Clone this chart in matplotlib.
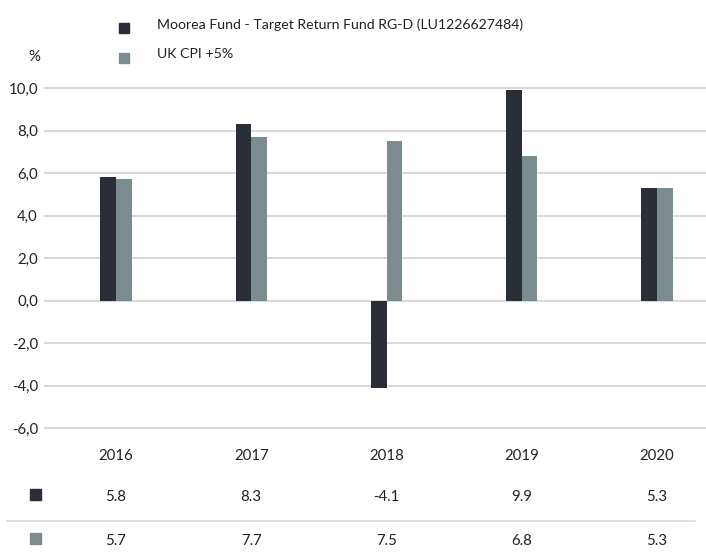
import matplotlib.pyplot as plt
from matplotlib.transforms import blended_transform_factory
import numpy as np

plt.rcParams['font.family'] = ['Lato', 'DejaVu Sans']

# Datos
anios = ['2016', '2017', '2018', '2019', '2020']
fondo = [5.8, 8.3, -4.1, 9.9, 5.3]
cpi = [5.7, 7.7, 7.5, 6.8, 5.3]
nombres = ['Moorea Fund - Target Return Fund RG-D (LU1226627484)', 'UK CPI +5%']
colores = ['#2a2e36', '#7b8c8f']
yticks = [-6, -4, -2, 0, 2, 4, 6, 8, 10]

W, H = 706, 553
fs = 10.8
fig = plt.figure(figsize=(W / 100, H / 100), dpi=100)
ax = fig.add_axes([45 / W, (H - 428) / H, 1 - 45 / W, 340 / H])

x = np.arange(len(anios))
ancho = 0.115
ax.bar(x - ancho / 2, fondo, ancho, color=colores[0], zorder=3)
ax.bar(x + ancho / 2, cpi, ancho, color=colores[1], zorder=3)

# lineas de la grilla
for t in yticks:
    ax.axhline(t, color='#d9d9d9', lw=1.5, zorder=1, clip_on=False)

ax.set_xlim(-0.525, 4.362)
ax.set_ylim(-6, 10)
ax.set_yticks(yticks)
ax.set_yticklabels([f'{t:.1f}'.replace('.', ',') for t in yticks], fontsize=fs, color='#222222')
ax.set_xticks(x)
ax.set_xticklabels(anios, fontsize=fs, color='#222222')
ax.tick_params(axis='both', length=0)
ax.tick_params(axis='y', pad=5)
ax.tick_params(axis='x', pad=15)
for s in ax.spines.values():
    s.set_visible(False)

fig.text(40 / W, 1 - 57 / H, '%', ha='right', va='center', fontsize=fs, color='#222222')

# leyenda
for i, (nom, col) in enumerate(zip(nombres, colores)):
    yy = 1 - (27.5 + 30 * i) / H
    fig.patches.append(plt.Rectangle((119 / W, yy - 5 / H), 10 / W, 10 / H,
                                     transform=fig.transFigure, color=col))
    fig.text(157 / W, yy + 3 / H, nom, ha='left', va='center', fontsize=10.2, color='#222222')

# tabla de valores
tr = blended_transform_factory(ax.transData, fig.transFigure)
for j, (serie, col) in enumerate(zip([fondo, cpi], colores)):
    yy = 1 - (497 + 44 * j) / H
    fig.patches.append(plt.Rectangle((30 / W, yy - 3 / H), 11 / W, 11 / H,
                                     transform=fig.transFigure, color=col))
    for xi, v in zip(x, serie):
        ax.text(xi, yy, f'{v:.1f}', transform=tr, ha='center', va='center',
                fontsize=fs, color='#222222', clip_on=False)

fig.add_artist(plt.Line2D([7 / W, 695 / W], [1 - 521 / H, 1 - 521 / H],
                          color='#d9d9d9', lw=1.2))

fig.savefig('out.png', dpi=100)
